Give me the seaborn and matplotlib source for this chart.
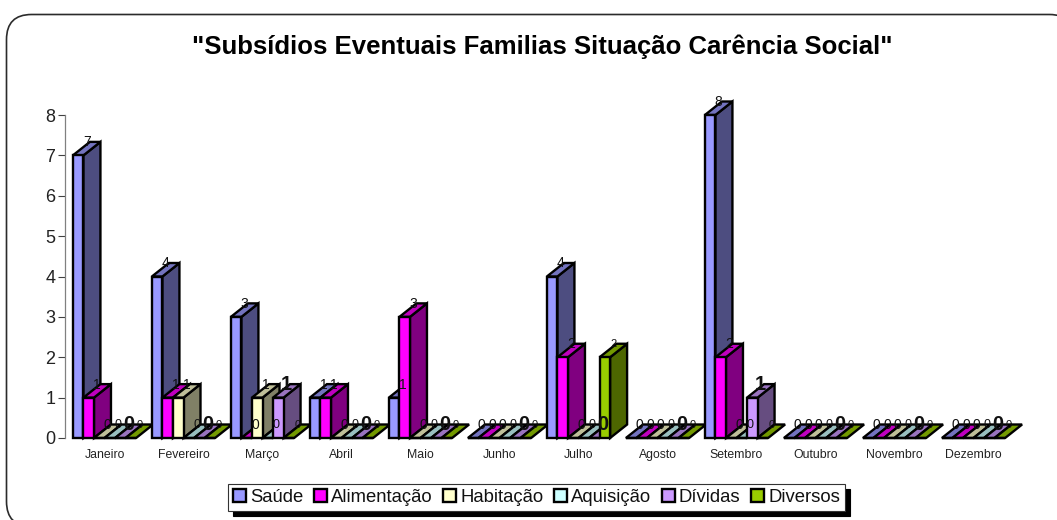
import matplotlib
matplotlib.use("Agg")
import matplotlib.pyplot as plt
from matplotlib.patches import Polygon, FancyBboxPatch
from matplotlib.colors import to_rgb
import pandas as pd
import seaborn as sns

months = ["Janeiro", "Fevereiro", "Março", "Abril", "Maio", "Junho", "Julho",
          "Agosto", "Setembro", "Outubro", "Novembro", "Dezembro"]
saude = [7, 4, 3, 1, 1, 0, 4, 0, 8, 0, 0, 0]
alimentacao = [1, 1, 0, 1, 3, 0, 2, 0, 2, 0, 0, 0]
habitacao = [0, 1, 1, 0, 0, 0, 0, 0, 0, 0, 0, 0]
aquisicao = [0, 0, 0, 0, 0, 0, 0, 0, 0, 0, 0, 0]
dividas = [0, 0, 1, 0, 0, 0, 0, 0, 1, 0, 0, 0]
diversos = [0, 0, 0, 0, 0, 0, 2, 0, 0, 0, 0, 0]
series_names = ["Saúde", "Alimentação", "Habitação", "Aquisição", "Dívidas", "Diversos"]
series_values = [saude, alimentacao, habitacao, aquisicao, dividas, diversos]
colors = ["#9999FF", "#FF00FF", "#FFFFCC", "#CCFFFF", "#CC99FF", "#99CC00"]
label_sizes = [10, 10, 10, 9, 14.5, 8]
label_weights = ["normal", "normal", "normal", "normal", "bold", "normal"]
title = '"Subsídios Eventuais Familias Situação Carência Social"'

W, H = 1057, 520
sns.set_theme(style="white")
plt.rcParams["font.family"] = ["Liberation Sans", "DejaVu Sans"]

df = pd.DataFrame({"mes": months * len(series_names),
                   "serie": [s for s in series_names for _ in months],
                   "valor": [v for vals in series_values for v in vals]})

fig = plt.figure(figsize=(W / 100, H / 100), dpi=100, facecolor="white")

# rounded outer frame, expressed in pixel coordinates
bg = fig.add_axes([0, 0, 1, 1], zorder=0)
bg.set_xlim(0, W)
bg.set_ylim(H, 0)
bg.axis("off")
bg.add_patch(FancyBboxPatch((6.5, 14.5), 1068, 512, boxstyle="round,pad=0,rounding_size=25",
                            fc="white", ec="#2b2b2b", lw=1.2))

L, R, T, B = 65, 1013, 115, 438
ax = fig.add_axes([L / W, 1 - B / H, (R - L) / W, (B - T) / H], zorder=1)
ax.patch.set_alpha(0)

sns.barplot(data=df, x="mes", y="valor", hue="serie", order=months, hue_order=series_names,
            palette=dict(zip(series_names, colors)), saturation=1, width=0.8, gap=0,
            edgecolor="black", linewidth=1.7, errorbar=None, ax=ax)
ax.set_xlim(-0.5, 11.5)
ax.set_ylim(0, 8)
ax.set_xlabel("")
ax.set_ylabel("")

dx = 17 / ((R - L) / 12)      # depth of the 3D effect in category units
dy = 13.5 / ((B - T) / 8)     # depth of the 3D effect in value units


def shade(c, k):
    r, g, b = to_rgb(c)
    return (r * k, g * k, b * k)


order = 10
for g in range(len(months)):
    for s, cont in enumerate(ax.containers):
        bar = cont[g]
        x0, w, h = bar.get_x(), bar.get_width(), bar.get_height()
        x1 = x0 + w
        kw = dict(ec="black", lw=1.7, joinstyle="miter", clip_on=False)
        if h > 0:
            ax.add_patch(Polygon([(x1, 0), (x1 + dx, dy), (x1 + dx, h + dy), (x1, h)],
                                 fc=shade(colors[s], 0.5), zorder=order, **kw))
        ax.add_patch(Polygon([(x0, h), (x0 + dx, h + dy), (x1 + dx, h + dy), (x1, h)],
                             fc=shade(colors[s], 0.75), zorder=order + 1, **kw))
        bar.set_zorder(order + 2)
        bar.set_clip_on(False)
        order += 3
        ax.text((x0 + x1) / 2 + dx * 0.5, h + dy - 0.01, str(series_values[s][g]),
                ha="center", va="center", fontsize=label_sizes[s], fontweight=label_weights[s],
                color="#111111", zorder=1000)

for side in ["top", "right", "bottom"]:
    ax.spines[side].set_visible(False)
ax.spines["left"].set_color("#808080")
ax.spines["left"].set_linewidth(0.9)
ax.set_yticks(range(9))
ax.tick_params(axis="y", left=True, length=5, width=0.8, color="#404040", pad=2,
               labelsize=13, labelcolor="#222222")
ax.tick_params(axis="x", bottom=False, length=0, pad=8, labelsize=8.8, labelcolor="#222222")

handles, labels = ax.get_legend_handles_labels()
if ax.get_legend():
    ax.get_legend().remove()
leg = fig.legend(handles, labels, loc="upper left", bbox_to_anchor=(228 / W, 1 - 484 / H),
                 ncol=6, frameon=True, fancybox=False, edgecolor="#333333", framealpha=1,
                 fontsize=13.3, handlelength=0.7, handleheight=0.7, handletextpad=0.2,
                 columnspacing=0.6, borderaxespad=0, borderpad=0.28,
                 labelcolor="#111111",
                 shadow={"color": "black", "alpha": 1, "ox": 3.6, "oy": -3.6})
leg.get_frame().set_linewidth(0.8)
leg.set_zorder(2000)

fig.text(542 / W, 1 - 47 / H, title, ha="center", va="center", fontsize=18.5,
         fontweight="bold", color="black")

fig.savefig("out.png", dpi=100, facecolor="white")
